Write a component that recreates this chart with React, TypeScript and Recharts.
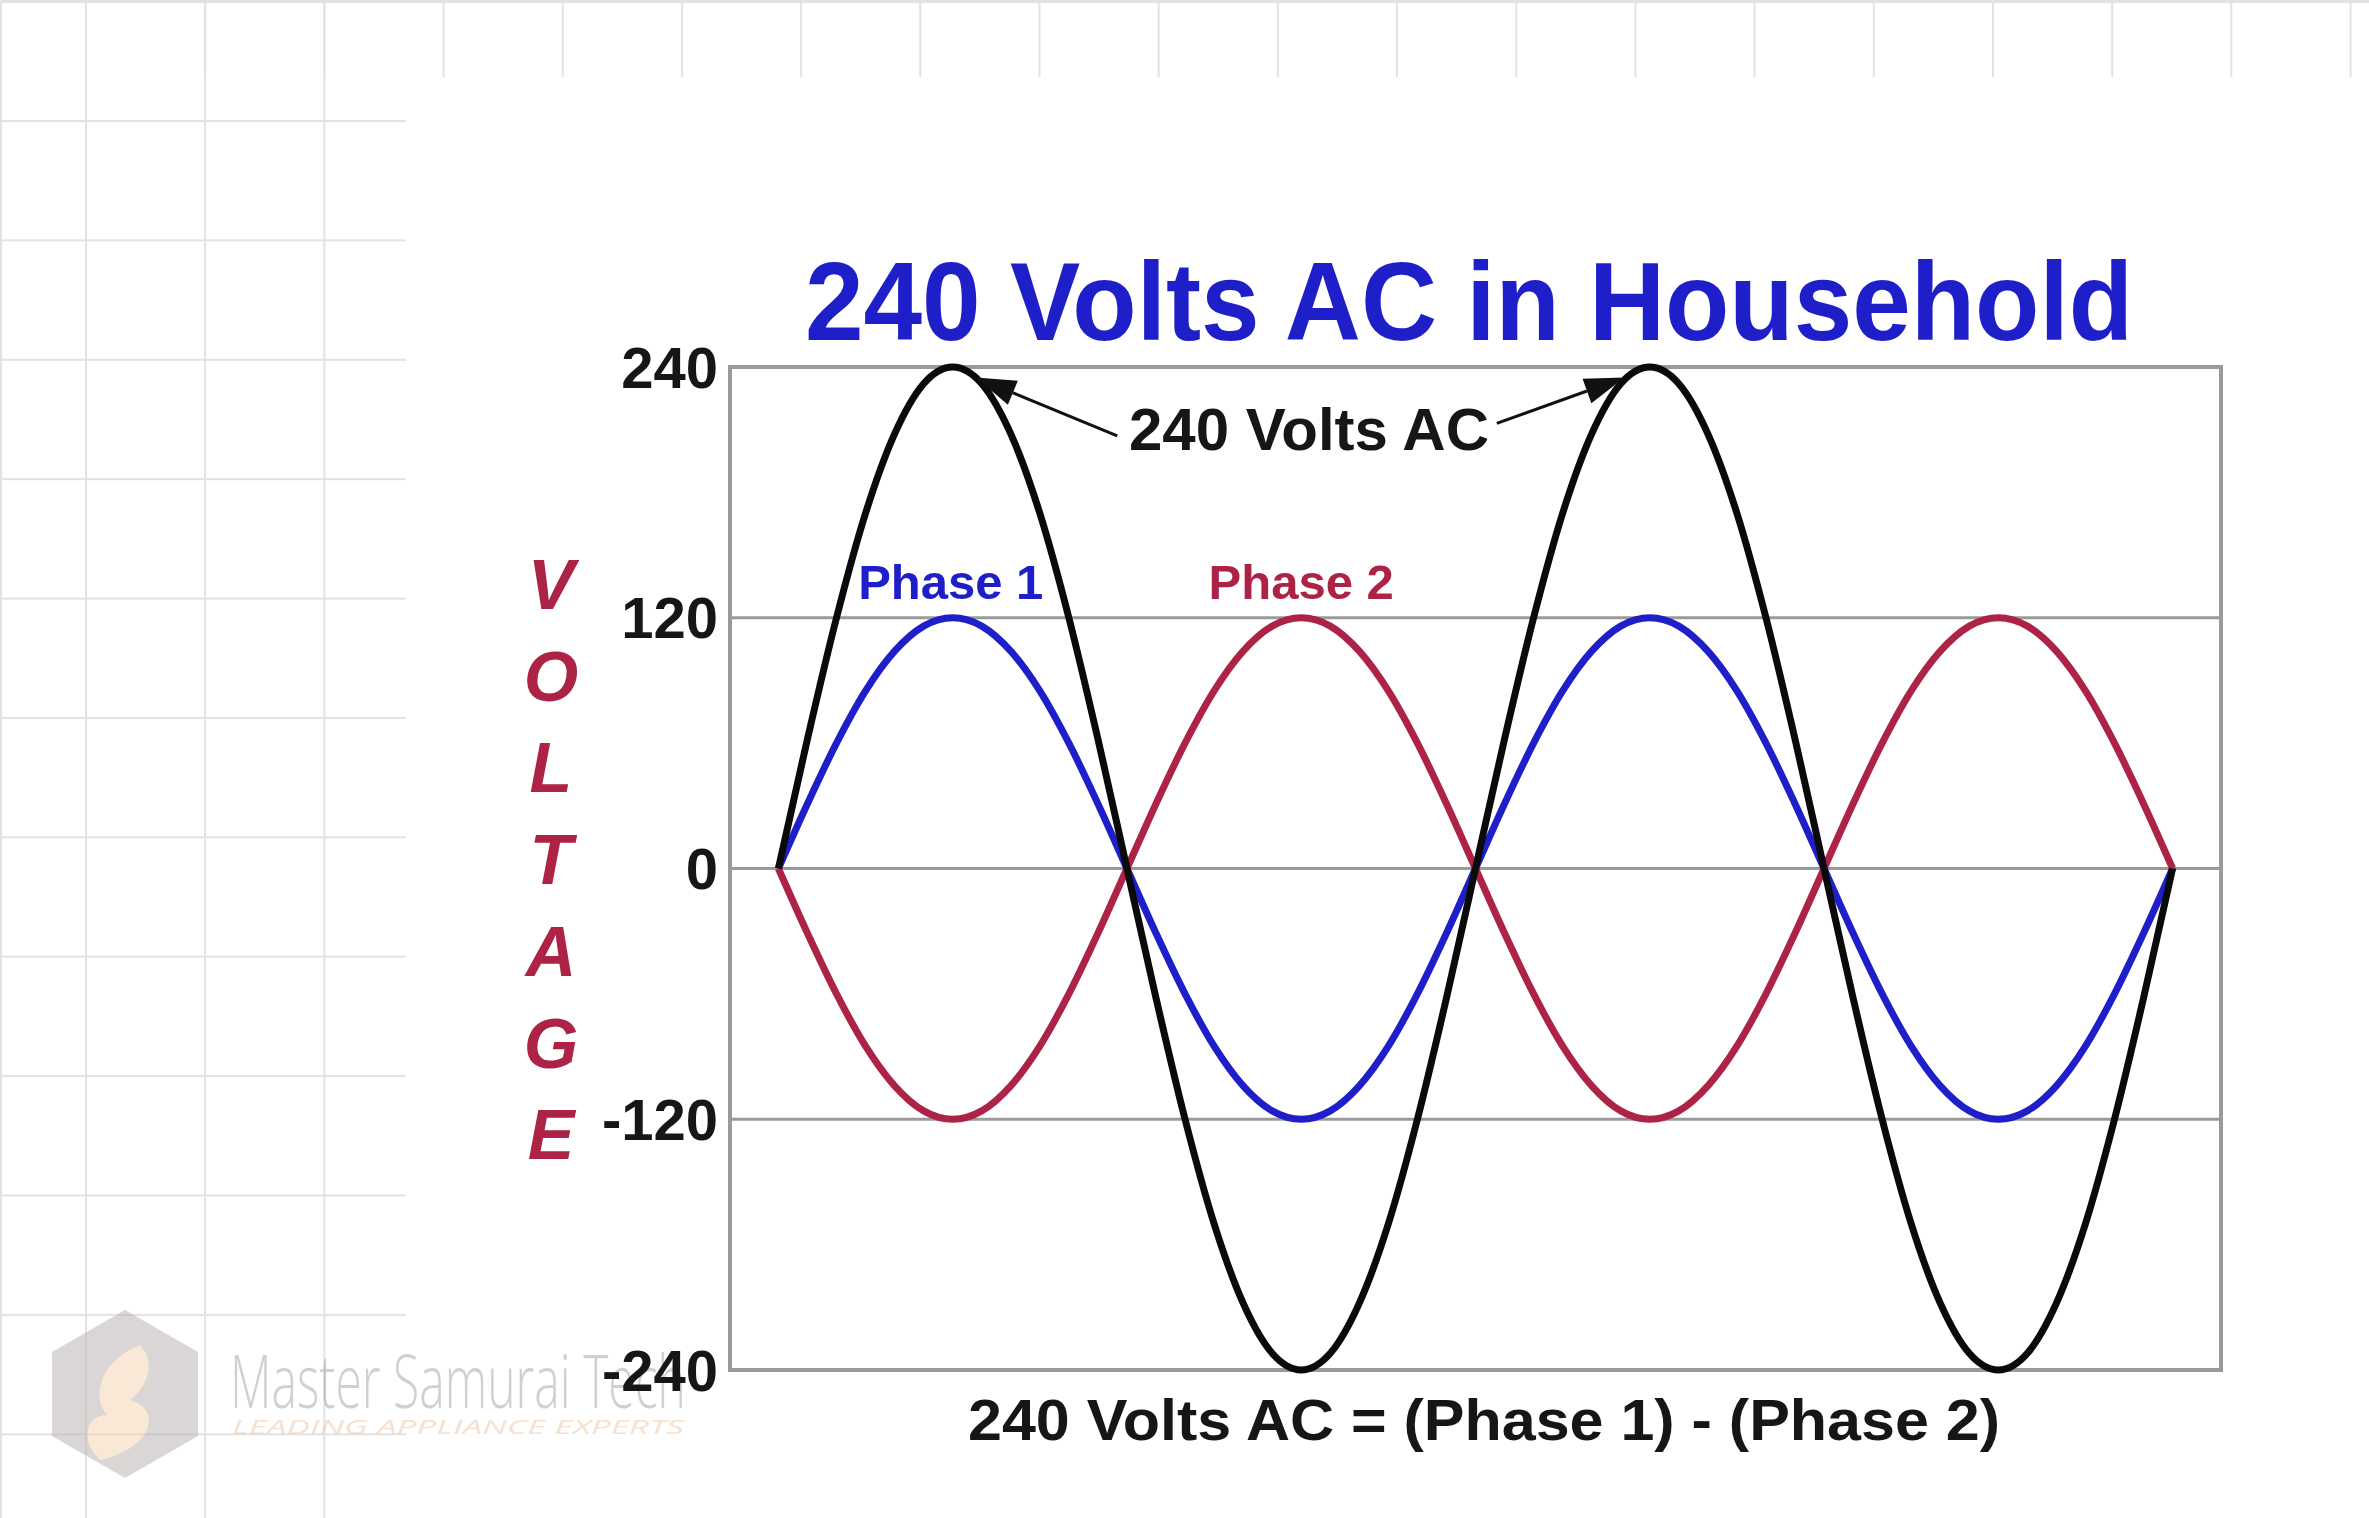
import React from 'react'
import {
  LineChart,
  Line,
  XAxis,
  YAxis,
  CartesianGrid,
  ReferenceArea,
  ReferenceLine,
  ReferenceDot,
} from 'recharts'

// angle along the time axis (degrees), two full cycles
const angles = [
  0, 15, 30, 45, 60, 75, 90, 105, 120, 135, 150, 165, 180, 195, 210, 225, 240, 255, 270, 285, 300,
  315, 330, 345, 360, 375, 390, 405, 420, 435, 450, 465, 480, 495, 510, 525, 540, 555, 570, 585,
  600, 615, 630, 645, 660, 675, 690, 705, 720,
]

// volts
const phase1 = [
  0, 31, 60, 85, 104, 116, 120, 116, 104, 85, 60, 31, 0, -31, -60, -85, -104, -116, -120, -116,
  -104, -85, -60, -31, 0, 31, 60, 85, 104, 116, 120, 116, 104, 85, 60, 31, 0, -31, -60, -85, -104,
  -116, -120, -116, -104, -85, -60, -31, 0,
]
const phase2 = [
  0, -31, -60, -85, -104, -116, -120, -116, -104, -85, -60, -31, 0, 31, 60, 85, 104, 116, 120, 116,
  104, 85, 60, 31, 0, -31, -60, -85, -104, -116, -120, -116, -104, -85, -60, -31, 0, 31, 60, 85,
  104, 116, 120, 116, 104, 85, 60, 31, 0,
]
const volts240 = [
  0, 62, 120, 170, 208, 232, 240, 232, 208, 170, 120, 62, 0, -62, -120, -170, -208, -232, -240,
  -232, -208, -170, -120, -62, 0, 62, 120, 170, 208, 232, 240, 232, 208, 170, 120, 62, 0, -62, -120,
  -170, -208, -232, -240, -232, -208, -170, -120, -62, 0,
]

const yTicks = [-240, -120, 0, 120, 240]
const axisLetters = ['V', 'O', 'L', 'T', 'A', 'G', 'E']

const data = angles.map((a, i) => ({
  angle: a,
  phase1: phase1[i],
  phase2: phase2[i],
  total: volts240[i],
}))

const FONT = '"Liberation Sans", Arial, sans-serif'
const BLUE = '#1f1fc9'
const RED = '#ad2345'

function ArrowShape(props: any) {
  const { x1, y1, x2, y2 } = props
  const ang = Math.atan2(y2 - y1, x2 - x1)
  const len = 40
  const half = 13
  const bx = x2 - len * Math.cos(ang)
  const by = y2 - len * Math.sin(ang)
  const px = -Math.sin(ang) * half
  const py = Math.cos(ang) * half
  return (
    <g>
      <line x1={x1} y1={y1} x2={bx} y2={by} stroke="#111" strokeWidth={3} />
      <polygon
        points={`${x2},${y2} ${bx + px},${by + py} ${bx - px},${by - py}`}
        fill="#111"
      />
    </g>
  )
}

function textDot(label: string, color: string, size: number) {
  return (props: any) => (
    <text
      x={props.cx}
      y={props.cy}
      textAnchor="middle"
      dominantBaseline="central"
      fill={color}
      fontFamily={FONT}
      fontWeight="bold"
      fontSize={size}
    >
      {label}
    </text>
  )
}

function Watermark() {
  return (
    <svg
      width={760}
      height={200}
      style={{ position: 'absolute', left: 0, top: 1290, opacity: 0.55 }}
    >
      <polygon points="125,20 198,62 198,146 125,188 52,146 52,62" fill="#bdb5b5" />
      <path
        d="M140,55 C100,70 90,110 108,125 C85,125 80,150 100,170 C150,160 165,120 130,110 C150,95 155,70 140,55 Z"
        fill="#f3d6b4"
      />
      <text
        x={230}
        y={118}
        fontFamily='"Open Sans", sans-serif'
        fontWeight={300}
        fontSize={74}
        fill="#aaa"
        textLength={456}
        lengthAdjust="spacingAndGlyphs"
      >
        Master Samurai Tech
      </text>
      <text
        x={232}
        y={144}
        fontFamily='"Open Sans", sans-serif'
        fontStyle="italic"
        fontSize={20}
        fill="#f0c9a8"
        textLength={452}
        lengthAdjust="spacingAndGlyphs"
      >
        LEADING APPLIANCE EXPERTS
      </text>
    </svg>
  )
}

export default function App() {
  const gridLine = '#e2e2e2'
  return (
    <div
      style={{
        position: 'absolute',
        left: 0,
        top: 0,
        width: 2369,
        height: 1518,
        background: '#fff',
        overflow: 'hidden',
      }}
    >
      {/* graph paper strips behind the slide */}
      <div
        style={{
          position: 'absolute',
          left: 0,
          top: 0,
          width: 406,
          height: 1518,
          backgroundImage: `linear-gradient(to right, ${gridLine} 2px, transparent 2px), linear-gradient(to bottom, ${gridLine} 2px, transparent 2px)`,
          backgroundSize: '119.2px 119.4px',
          backgroundPosition: '85px 120px',
        }}
      />
      <div
        style={{
          position: 'absolute',
          left: 0,
          top: 0,
          width: 2369,
          height: 74,
          backgroundImage: `linear-gradient(to right, ${gridLine} 2px, transparent 2px)`,
          backgroundSize: '119.2px 74px',
          backgroundPosition: '85px 0px',
          borderTop: `3px solid ${gridLine}`,
        }}
      />
      <div style={{ position: 'absolute', left: 0, top: 0, width: 2, height: 1518, background: gridLine }} />
      <Watermark />
      <div style={{ position: 'absolute', left: 0, top: 0 }}>
        <LineChart
          width={2369}
          height={1518}
          data={data}
          margin={{ top: 367, right: 148, bottom: 148, left: 630 }}
        >
          <CartesianGrid vertical={false} horizontalValues={yTicks} stroke="#9a9a9a" strokeWidth={3} />
          <XAxis dataKey="angle" type="number" domain={[-25, 745]} hide />
          <YAxis
            type="number"
            domain={[-240, 240]}
            ticks={yTicks}
            width={100}
            axisLine={false}
            tickLine={false}
            tickSize={0}
            tickMargin={12}
            tick={{ fill: '#161616', fontSize: 58, fontWeight: 'bold', fontFamily: FONT }}
          />
          <ReferenceArea
            x1={-25}
            x2={745}
            y1={-240}
            y2={240}
            fill="none"
            stroke="#9a9a9a"
            strokeWidth={4}
            fillOpacity={0}
          />
          <Line
            dataKey="phase1"
            type="monotone"
            stroke={BLUE}
            strokeWidth={7}
            dot={false}
            isAnimationActive={false}
          />
          <Line
            dataKey="phase2"
            type="monotone"
            stroke={RED}
            strokeWidth={7}
            dot={false}
            isAnimationActive={false}
          />
          <Line
            dataKey="total"
            type="monotone"
            stroke="#0a0a0a"
            strokeWidth={7}
            dot={false}
            isAnimationActive={false}
          />
          <ReferenceLine
            segment={[
              { x: 175, y: 207 },
              { x: 102, y: 235 },
            ]}
            shape={ArrowShape}
          />
          <ReferenceLine
            segment={[
              { x: 371, y: 213 },
              { x: 437, y: 235 },
            ]}
            shape={ArrowShape}
          />
          <ReferenceDot x={274} y={210} r={1} shape={textDot('240 Volts AC', '#161616', 60)} />
          <ReferenceDot x={89} y={137} r={1} shape={textDot('Phase 1', BLUE, 49)} />
          <ReferenceDot x={270} y={137} r={1} shape={textDot('Phase 2', RED, 49)} />
          <text
            x={805}
            y={340}
            fill={BLUE}
            fontFamily={FONT}
            fontWeight="bold"
            fontSize={112}
            textLength={1328}
            lengthAdjust="spacingAndGlyphs"
          >
            240 Volts AC in Household
          </text>
          <text
            x={968}
            y={1440}
            fill="#161616"
            fontFamily={FONT}
            fontWeight="bold"
            fontSize={58}
            textLength={1032}
            lengthAdjust="spacingAndGlyphs"
          >
            240 Volts AC = (Phase 1) - (Phase 2)
          </text>
          {axisLetters.map((ch, i) => (
            <text
              key={ch + i}
              x={551}
              y={609 + i * 91.7}
              textAnchor="middle"
              fill={RED}
              fontFamily={FONT}
              fontWeight="bold"
              fontStyle="italic"
              fontSize={70}
            >
              {ch}
            </text>
          ))}
        </LineChart>
      </div>
    </div>
  )
}
